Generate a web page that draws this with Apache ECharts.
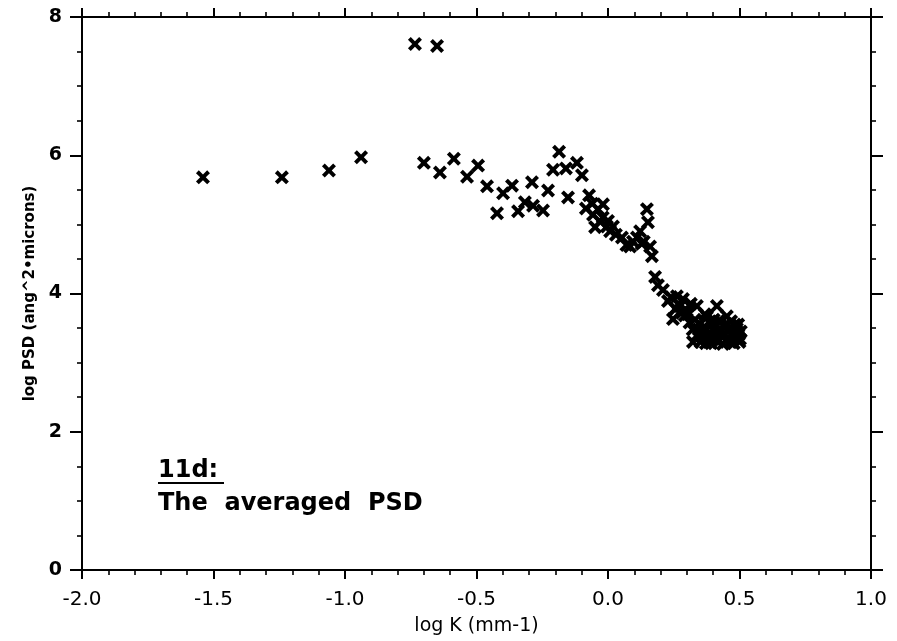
<!DOCTYPE html>
<html>
<head>
<meta charset="utf-8">
<script src="https://cdn.jsdelivr.net/npm/echarts@6/dist/echarts.min.js"></script>
<style>html,body{margin:0;padding:0;background:#fff}#c{width:897px;height:641px}</style>
</head>
<body>
<div id="c"></div>
<script>
// log K (mm-1) values
var logK = [
  -1.540, -1.240, -1.061, -0.939, -0.734, -0.650, -0.700, -0.639, -0.586, -0.536,
  -0.494, -0.460, -0.422, -0.399, -0.365, -0.342, -0.316, -0.289, -0.285, -0.247,
  -0.228, -0.209, -0.186, -0.160, -0.152, -0.118, -0.099, -0.084, -0.072, -0.057,
  -0.038, -0.019, -0.030, -0.049, -0.004, 0.008, 0.019, 0.053, 0.070, 0.084,
  0.110, 0.122, 0.136, 0.148, 0.152, 0.160, 0.167, 0.179, 0.190, 0.209,
  0.228, 0.247, 0.262, 0.274, 0.285, 0.300, 0.304, 0.315, 0.323, 0.330,
  0.338, 0.345, 0.350, 0.356, 0.361, 0.368, 0.376, 0.382, 0.388, 0.395,
  0.399, 0.405, 0.414, 0.420, 0.426, 0.432, 0.437, 0.445, 0.452, 0.458,
  0.464, 0.470, 0.475, 0.482, 0.490, 0.496, 0.502, 0.505, 0.240, 0.256,
  0.340, 0.352, 0.365, 0.372, 0.385, 0.392, 0.402, 0.410, 0.418, 0.428,
  0.440, 0.448, 0.455, 0.468, 0.478, 0.486, 0.495, 0.500, 0.322, 0.310,
  0.292, 0.280, 0.268, 0.258, -0.020, 0.000, -0.060, 0.030, 0.095, 0.128
];
// log PSD (ang^2*microns) values
var logPSD = [
  5.68, 5.68, 5.78, 5.97, 7.61, 7.58, 5.89, 5.75, 5.95, 5.69,
  5.85, 5.55, 5.16, 5.45, 5.56, 5.19, 5.32, 5.61, 5.27, 5.20,
  5.49, 5.79, 6.05, 5.81, 5.39, 5.89, 5.71, 5.23, 5.42, 5.14,
  5.22, 5.29, 5.04, 4.96, 4.97, 4.90, 4.97, 4.81, 4.70, 4.68,
  4.81, 4.90, 4.75, 5.22, 5.03, 4.68, 4.54, 4.24, 4.12, 4.05,
  3.89, 3.63, 3.96, 3.82, 3.92, 3.75, 3.70, 3.85, 3.30, 3.62,
  3.82, 3.48, 3.56, 3.38, 3.44, 3.70, 3.66, 3.40, 3.34, 3.55,
  3.34, 3.45, 3.82, 3.60, 3.49, 3.38, 3.27, 3.55, 3.67, 3.45,
  3.30, 3.42, 3.39, 3.55, 3.49, 3.40, 3.34, 3.45, 3.95, 3.78,
  3.40, 3.30, 3.52, 3.28, 3.58, 3.28, 3.62, 3.40, 3.30, 3.60,
  3.42, 3.32, 3.55, 3.60, 3.28, 3.45, 3.55, 3.30, 3.48, 3.58,
  3.68, 3.72, 3.85, 3.78, 5.10, 5.05, 5.30, 4.85, 4.75, 4.72
];
var xTicks = { min: -2, max: 1, step: 0.5 };
var yTicks = { min: 0, max: 8, step: 2 };

var points = logK.map(function (k, i) { return [k, logPSD[i]]; });

var crossPath = 'path://M0,2L2,0L5,3L8,0L10,2L7,5L10,8L8,10L5,7L2,10L0,8L3,5Z';

var lineStyle = { color: '#000', width: 2 };
function axisX(pos, showLabel) {
  return {
    type: 'value', position: pos, min: xTicks.min, max: xTicks.max, interval: xTicks.step,
    axisLine: { show: true, onZero: false, lineStyle: lineStyle },
    axisTick: { show: true, length: 9, lineStyle: { color: '#000', width: 2 } },
    minorTick: { show: true, splitNumber: 5, length: 5, lineStyle: { color: '#000', width: 1.6 } },
    splitLine: { show: false },
    axisLabel: {
      show: showLabel, margin: 20, color: '#000', fontFamily: 'DejaVu Sans', fontSize: 20,
      formatter: function (v) { return v.toFixed(1); }
    },
    name: showLabel ? 'log K (mm-1)' : '',
    nameLocation: 'middle', nameGap: 47,
    nameTextStyle: { color: '#000', fontFamily: 'DejaVu Sans', fontSize: 19 }
  };
}
function axisY(pos, showLabel) {
  return {
    type: 'value', position: pos, min: yTicks.min, max: yTicks.max, interval: yTicks.step,
    axisLine: { show: true, onZero: false, lineStyle: lineStyle },
    axisTick: { show: true, length: 12, lineStyle: { color: '#000', width: 2 } },
    minorTick: { show: true, splitNumber: 4, length: 5, lineStyle: { color: '#000', width: 1.6 } },
    splitLine: { show: false },
    axisLabel: {
      show: showLabel, margin: 20, color: '#000', fontFamily: 'DejaVu Sans', fontWeight: 'bold', fontSize: 19,
      formatter: function (v) { return String(v); }
    },
    name: showLabel ? 'log PSD (ang^2\u2022microns)' : '',
    nameLocation: 'middle', nameGap: 44, nameRotate: 90,
    nameTextStyle: { color: '#000', fontFamily: 'DejaVu Sans', fontWeight: 'bold', fontSize: 15 }
  };
}

var chart = echarts.init(document.getElementById('c'), null, { renderer: 'canvas' });
chart.setOption({
  animation: false,
  backgroundColor: '#fff',
  grid: { left: 82, right: 26, top: 17, bottom: 69, containLabel: false },
  xAxis: [axisX('bottom', true), axisX('top', false)],
  yAxis: [axisY('left', true), axisY('right', false)],
  series: [{
    type: 'scatter', xAxisIndex: 0, yAxisIndex: 0,
    data: points, symbol: crossPath, symbolSize: 14,
    itemStyle: { color: '#000', opacity: 1 }
  }],
  graphic: [
    { type: 'text', left: 158, top: 459, style: { text: '11d:', fill: '#000', font: 'bold 24px "DejaVu Sans"' } },
    { type: 'rect', shape: { x: 158, y: 482, width: 66, height: 2 }, style: { fill: '#000' } },
    { type: 'text', left: 158, top: 492, style: { text: 'The  averaged  PSD', fill: '#000', font: 'bold 24px "DejaVu Sans"' } }
  ]
});
</script>
</body>
</html>
